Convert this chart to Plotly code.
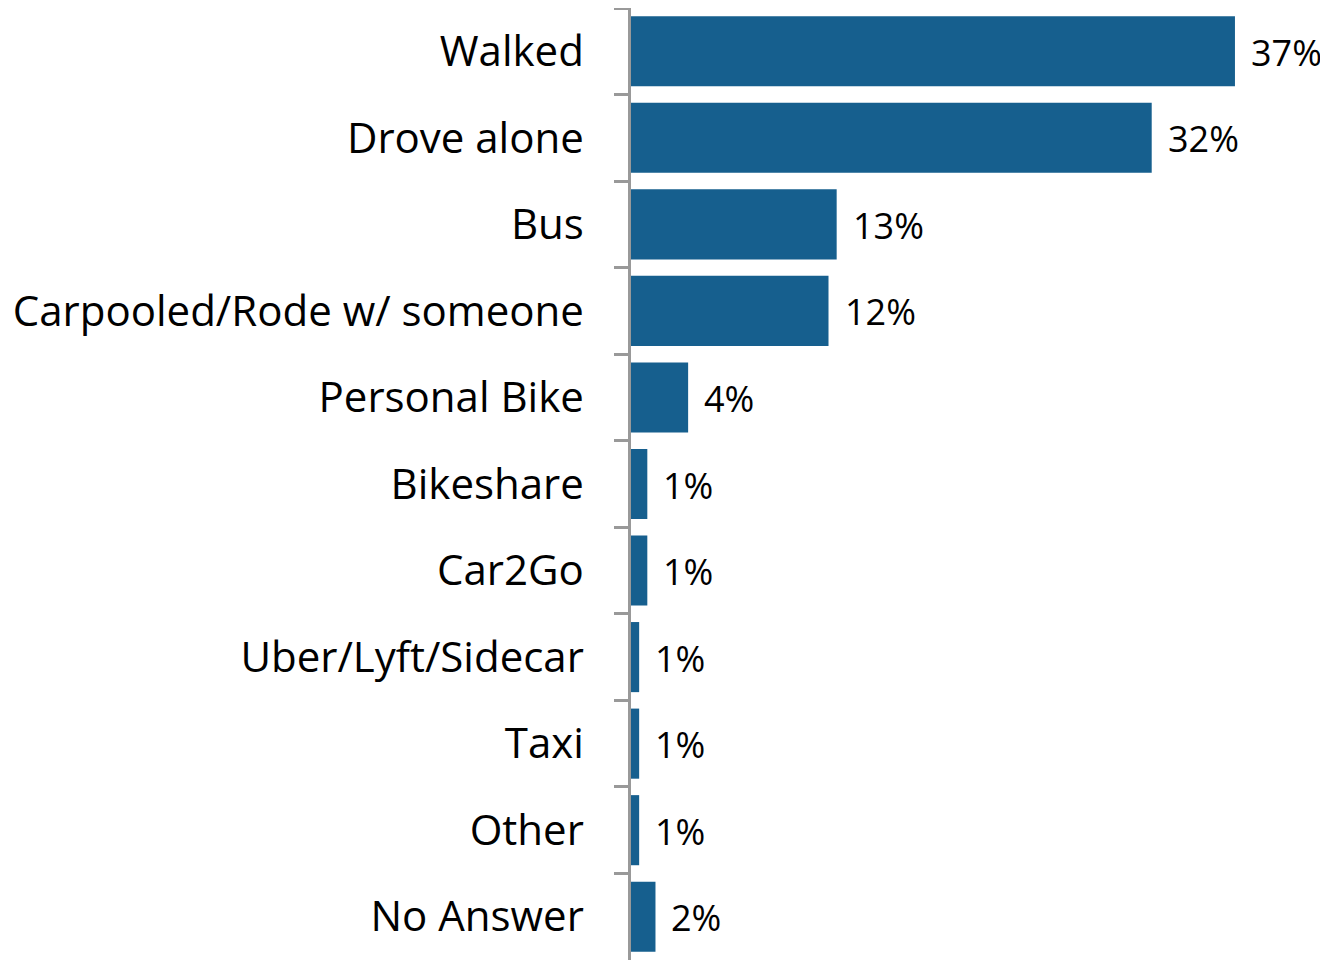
import plotly.graph_objects as go

categories = ["Walked", "Drove alone", "Bus", "Carpooled/Rode w/ someone", "Personal Bike",
              "Bikeshare", "Car2Go", "Uber/Lyft/Sidecar", "Taxi", "Other", "No Answer"]
values = [37.0, 31.9, 12.6, 12.1, 3.5, 1.0, 1.0, 0.5, 0.5, 0.5, 1.5]
labels = ["37%", "32%", "13%", "12%", "4%", "1%", "1%", "1%", "1%", "1%", "2%"]

BAR = "#165f8e"
GREY = "#999999"
FONT = "Open Sans"

fig = go.Figure(go.Bar(
    x=values, y=categories, orientation="h",
    marker=dict(color=BAR, line=dict(width=0)),
    hoverinfo="skip",
))

for v, c, t in zip(values, categories, labels):
    fig.add_annotation(x=v, y=c, text=t, showarrow=False, xanchor="left",
                       xshift=14, yshift=-1, font=dict(family=FONT, size=36, color="black"))

fig.update_layout(
    width=1320, height=952,
    margin=dict(l=623, r=0, t=0, b=0),
    paper_bgcolor="white", plot_bgcolor="white",
    bargap=0.19, showlegend=False,
    xaxis=dict(range=[0, 42.7], visible=False, fixedrange=True),
    yaxis=dict(autorange="reversed", categoryorder="array", categoryarray=categories,
               showline=True, linecolor=GREY, linewidth=2.5,
               ticks="outside", tickson="boundaries", ticklen=14, tickwidth=2.5, tickcolor=GREY,
               tickfont=dict(family=FONT, size=42, color="black"),
               ticklabelstandoff=36, showgrid=False, zeroline=False, automargin=False),
)

fig.write_html("out.html")
